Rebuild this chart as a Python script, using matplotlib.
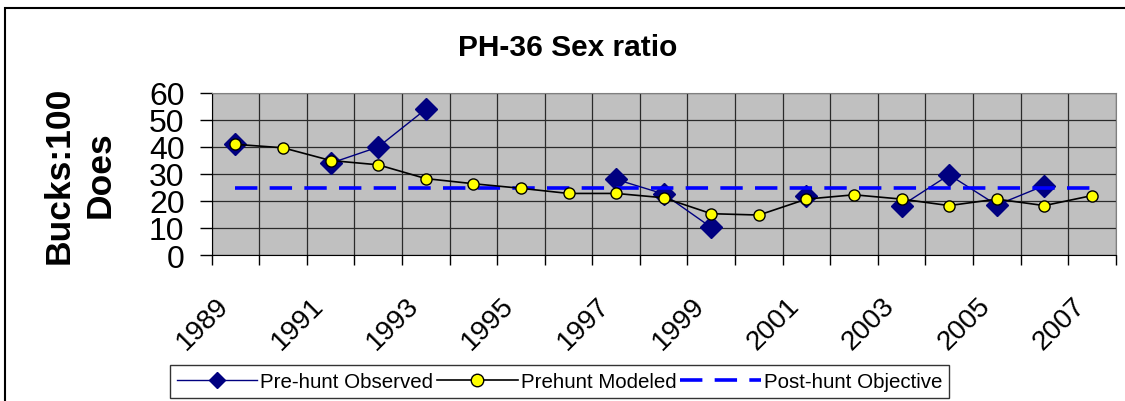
import matplotlib.pyplot as plt
import numpy as np
from matplotlib.patches import Rectangle
from matplotlib.lines import Line2D
from matplotlib.transforms import ScaledTranslation

plt.rcParams['font.family'] = ['Liberation Sans', 'DejaVu Sans']

years = list(range(1989, 2008))
observed = [41, np.nan, 34, 40, 54, np.nan, np.nan, np.nan, 28, 22.6, 10.2,
            np.nan, 21.7, np.nan, 18.3, 29.7, 18.5, 25.7, np.nan]
modeled = [41, 39.7, 35, 33.4, 28.3, 26.4, 24.7, 22.8, 22.8, 21.2, 15.3,
           14.8, 20.7, 22.3, 20.7, 18.3, 20.7, 18.3, 22]
objective = [25] * 19

fig = plt.figure(figsize=(11.25, 4.02), dpi=100)
ax = fig.add_axes([211.7 / 1125, 1 - 256 / 402, 904 / 1125, 162 / 402])
ax.set_facecolor('#C0C0C0')

x = np.arange(len(years))
ax.plot(x, observed, color='#000080', lw=1.0, marker='D', ms=11,
        mfc='#000080', mec='#000080', zorder=3)
obj_line, = ax.plot(x, objective, color='#0000FF', lw=2.6, zorder=3.5,
                    solid_capstyle='butt', dash_capstyle='butt')
obj_line.set_dashes([6.2, 3.4])
ax.plot(x, modeled, color='black', lw=1.2, marker='o', ms=8,
        mfc='#FFFF00', mec='black', mew=1.0, zorder=4)

ax.set_xlim(-0.5, len(years) - 0.5)
ax.set_ylim(0, 60)
ax.set_yticks(range(0, 61, 10))
ax.tick_params(axis='y', which='major', length=8.5, width=1, pad=11,
               labelsize=23, direction='out')

# category boundaries carry the tick marks, labels sit on every other year
ax.set_xticks(np.arange(-0.5, len(years), 1.0), minor=True)
ax.set_xticks(x[::2])
ax.set_xticklabels([str(y) for y in years[::2]], rotation=45, ha='right',
                   va='top', rotation_mode='anchor')
ax.tick_params(axis='x', which='major', length=0, pad=28, labelsize=20)
ax.tick_params(axis='x', which='minor', length=7.5, width=1, direction='out')
for lab in ax.get_xticklabels():
    lab.set_transform(lab.get_transform() +
                      ScaledTranslation(-0.2, 0.02, fig.dpi_scale_trans))

ax.grid(axis='y', which='major', color='#2a2a2a', lw=0.9)
ax.grid(axis='x', which='minor', color='#2a2a2a', lw=0.9)
ax.set_axisbelow(True)

for s in ['top', 'right']:
    ax.spines[s].set_color('#808080')
for s in ['left', 'bottom']:
    ax.spines[s].set_color('black')

fig.text(568 / 1125, 1 - 56 / 402, 'PH-36 Sex ratio', fontsize=21.5,
         fontweight='bold', ha='center', va='baseline')
fig.text(80 / 1125, 1 - 175 / 402, 'Bucks:100\nDoes', fontsize=25.5,
         fontweight='bold', rotation=90, ha='center', va='center',
         linespacing=1.3)

handles = [
    Line2D([], [], color='#000080', lw=1.0, marker='D', ms=8,
           mfc='#000080', mec='#000080'),
    Line2D([], [], color='black', lw=1.2, marker='o', ms=9,
           mfc='#FFFF00', mec='black'),
    Line2D([], [], color='#0000FF', lw=2.6, dashes=[6.2, 3.4]),
]
leg = fig.legend(handles, ['Pre-hunt Observed', 'Prehunt Modeled',
                           'Post-hunt Objective'],
                 loc='center', bbox_to_anchor=(559.5 / 1125, 1 - 382.5 / 402),
                 ncol=3, fontsize=14.8, frameon=True, fancybox=False,
                 handlelength=3.9, handletextpad=0.15, columnspacing=0.2,
                 borderpad=0.35, borderaxespad=0, edgecolor='black')
leg.get_frame().set_linewidth(1.0)

fig.add_artist(Rectangle((5 / 1125, -0.1), 1.2, 1.1 - 9 / 402,
                         transform=fig.transFigure, fill=False,
                         ec='black', lw=1.5, clip_on=False))

fig.savefig('out.png', dpi=100)
